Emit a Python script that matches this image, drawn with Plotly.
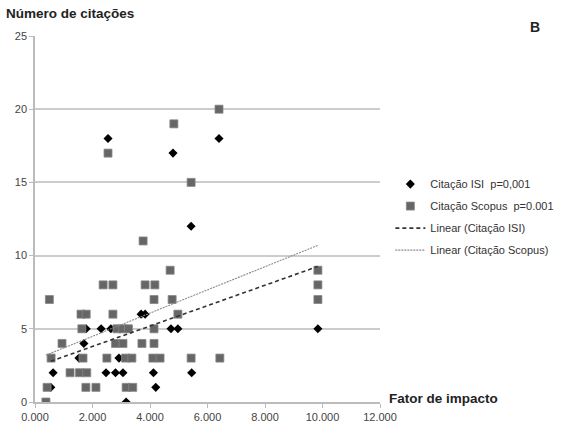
import plotly.graph_objects as go
import numpy as np

# ---- data ----
isi_x = [2.54, 6.40, 4.80, 5.43, 9.84, 5.45, 0.63, 0.55, 1.70, 1.78, 2.30, 2.64,
         2.47, 2.80, 3.06, 4.12, 3.69, 3.83, 4.73, 4.97, 2.92, 1.53, 3.17, 4.20]
isi_y = [18, 18, 17, 12, 5, 2, 2, 1, 4, 5, 5, 5,
         2, 2, 2, 2, 6, 6, 5, 5, 3, 3, 0, 1]

scopus_x = [6.40, 4.83, 2.54, 5.43, 3.76, 4.70, 9.84, 9.84, 9.84, 2.37, 2.71, 3.83,
            4.17, 0.50, 4.14, 4.77, 1.60, 1.78, 2.71, 4.97, 1.63, 2.85, 3.05, 3.25,
            4.14, 0.94, 2.80, 3.06, 3.72, 4.14, 0.56, 1.67, 2.50, 3.15, 3.37, 4.10,
            4.35, 5.43, 6.43, 1.22, 1.55, 1.80, 0.42, 1.77, 2.12, 3.17, 3.40, 0.38]
scopus_y = [20, 19, 17, 15, 11, 9, 9, 8, 7, 8, 8, 8,
            8, 7, 7, 7, 6, 6, 6, 6, 5, 5, 5, 5,
            5, 4, 4, 4, 4, 4, 3, 3, 3, 3, 3, 3,
            3, 3, 3, 2, 2, 2, 1, 1, 1, 1, 1, 0]

# linear trend parameters (slope, intercept)
isi_trend = (0.697, 2.40)
scopus_trend = (0.793, 2.90)

x_ticks = [0, 2, 4, 6, 8, 10, 12]
x_tick_labels = ["0.000", "2.000", "4.000", "6.000", "8.000", "10.000", "12.000"]
y_ticks = [0, 5, 10, 15, 20, 25]
y_tick_labels = ["0", "5", "10", "15", "20", "25"]

names = ["Citação ISI  p=0,001", "Citação Scopus  p=0.001",
         "Linear (Citação ISI)", "Linear (Citação Scopus)"]

fig = go.Figure()
fig.add_trace(go.Scatter(x=isi_x, y=isi_y, mode="markers", name=names[0],
                         legendgroup="a",
                         marker=dict(symbol="diamond", size=7, color="black",
                                     line=dict(width=0))))
fig.add_trace(go.Scatter(x=scopus_x, y=scopus_y, mode="markers", name=names[1],
                         legendgroup="b",
                         marker=dict(symbol="square", size=8, color="#666666",
                                     line=dict(width=0.8, color="#888888"))))

def trend(xs, params):
    xs_line = np.array([min(xs), max(xs)])
    return xs_line, params[0] * xs_line + params[1]

tx, ty = trend(isi_x, isi_trend)
fig.add_trace(go.Scatter(x=tx, y=ty, mode="lines", name=names[2], legendgroup="c",
                         line=dict(color="#333333", width=1.6, dash="4px,3px")))
tx, ty = trend(scopus_x, scopus_trend)
fig.add_trace(go.Scatter(x=tx, y=ty, mode="lines", name=names[3], legendgroup="d",
                         line=dict(color="#8a8a8a", width=1.1, dash="2px,1px")))

fig.update_layout(
    width=567, height=423,
    margin=dict(l=35, r=187, t=36, b=21, autoexpand=False),
    paper_bgcolor="white", plot_bgcolor="white",
    font=dict(family="Liberation Sans, Arial, sans-serif", size=11, color="#333333"),
    showlegend=True,
    legend=dict(x=1.03, y=0.635, xanchor="left", yanchor="top",
                font=dict(size=11, color="#333333"), tracegroupgap=3,
                itemwidth=30, bgcolor="rgba(0,0,0,0)"),
    xaxis=dict(range=[0, 12], tickmode="array", tickvals=x_ticks, ticktext=x_tick_labels,
               showgrid=False, zeroline=False, showline=True, linecolor="#bbbbbb",
               linewidth=1.5, ticks="outside", ticklen=4, tickcolor="#bbbbbb",
               tickfont=dict(size=11, color="#444444"), fixedrange=True,
               automargin=False),
    yaxis=dict(range=[0, 25], tickmode="array", tickvals=y_ticks, ticktext=y_tick_labels,
               showgrid=True, gridcolor="#cccccc", gridwidth=1.5, zeroline=False,
               showline=True, linecolor="#bbbbbb", linewidth=1.5, ticks="outside",
               ticklen=4, tickcolor="#bbbbbb", tickfont=dict(size=11, color="#444444"),
               fixedrange=True, automargin=False),
    annotations=[
        dict(text="<b>Número de citações</b>", xref="paper", yref="paper",
             x=-0.09, y=1.035, xanchor="left", yanchor="bottom", showarrow=False,
             font=dict(size=13.5, color="#222222")),
        dict(text="<b>B</b>", xref="paper", yref="paper",
             x=1.43, y=1.025, xanchor="left", yanchor="middle", showarrow=False,
             font=dict(size=14, color="#222222")),
        dict(text="<b>Fator de impacto</b>", xref="paper", yref="paper",
             x=1.02, y=0.01, xanchor="left", yanchor="middle", showarrow=False,
             font=dict(size=13.5, color="#222222")),
    ],
)

fig.write_html("out.html")
